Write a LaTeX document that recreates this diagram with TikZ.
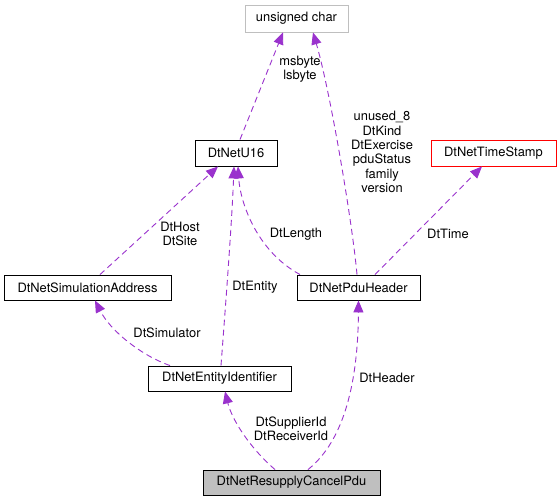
\documentclass[tikz,border=0pt]{standalone}
\usepackage{fontspec}
\setmainfont{TeX Gyre Heros}
\usetikzlibrary{arrows.meta}
\definecolor{edgepurple}{HTML}{9A32CD}
\definecolor{lightgrayb}{HTML}{BFBFBF}
\begin{document}
\begin{tikzpicture}[x=1pt,y=-1pt,
  every node/.style={font=\fontsize{12.9}{14.4}\selectfont},
  cls/.style={draw=black,line width=0.9pt,rectangle,inner sep=0pt,minimum height=25pt},
  rel/.style={draw=edgepurple,line width=0.9pt,dash pattern=on 6pt off 4pt,
              -{Triangle[length=12pt,width=10pt,fill=edgepurple]}},
  lbl/.style={align=center,inner sep=0pt}]
\useasboundingbox[fill=white] (0,0) rectangle (560,501);
% classes
\node[cls,draw=lightgrayb,minimum width=103pt,minimum height=27pt] (uc) at (296.5,18.5) {unsigned char};
\node[cls,minimum width=82pt,minimum height=26pt] (u16) at (236,153) {DtNetU16};
\node[cls,draw=red,minimum width=125pt,minimum height=26pt] (ts) at (493.5,153) {DtNetTimeStamp};
\node[cls,minimum width=167pt] (sim) at (87.5,287.5) {DtNetSimulationAddress};
\node[cls,minimum width=123pt] (pdu) at (358.5,287.5) {DtNetPduHeader};
\node[cls,minimum width=143pt] (ent) at (219.5,378.5) {DtNetEntityIdentifier};
\node[cls,fill=lightgrayb,minimum width=177pt] (rc) at (291.5,482.5) {DtNetResupplyCancelPdu};
% relations
\draw[rel] ([xshift=4pt]u16.north) -- ([xshift=-13.5pt]uc.south);
\draw[rel] ([xshift=-1.5pt]pdu.north) .. controls (352,220) and (330,90) .. ([xshift=16.5pt]uc.south);
\draw[rel] ([xshift=16.5pt]pdu.north) -- ([xshift=-11.5pt]ts.south);
\draw[rel] ([xshift=-58.5pt]pdu.north) .. controls (255,250) and (240,200) .. ([xshift=2pt]u16.south);
\draw[rel] ([xshift=12.5pt]sim.north) -- ([xshift=-18pt]u16.south);
\draw[rel] ([xshift=1.5pt]ent.north) .. controls (226,300) and (232,220) .. ([xshift=-2pt]u16.south);
\draw[rel] ([xshift=-49.5pt]ent.north) .. controls (140,355) and (110,330) .. ([xshift=7.5pt]sim.south);
\draw[rel] ([xshift=-16.5pt]rc.north) .. controls (250,448) and (232,420) .. ([xshift=5.5pt]ent.south);
\draw[rel] ([xshift=16.5pt]rc.north) .. controls (345,440) and (358,380) .. (pdu.south);
% labels
\node[lbl] (l1) at (300,69.5) {msbyte\\lsbyte};
\node[lbl] (l2) at (382,152) {unused\_8\\DtKind\\DtExercise\\pduStatus\\family\\version};
\node[lbl] (l3) at (448,234) {DtTime};
\node[lbl] (l4) at (296,234) {DtLength};
\node[lbl] (l5) at (180,234) {DtHost\\DtSite};
\node[lbl] (l6) at (255,287) {DtEntity};
\node[lbl] (l7) at (167,333) {DtSimulator};
\node[lbl] (l8) at (291,429) {DtSupplierId\\DtReceiverId};
\node[lbl] (l9) at (387,378) {DtHeader};
\end{tikzpicture}
\end{document}
